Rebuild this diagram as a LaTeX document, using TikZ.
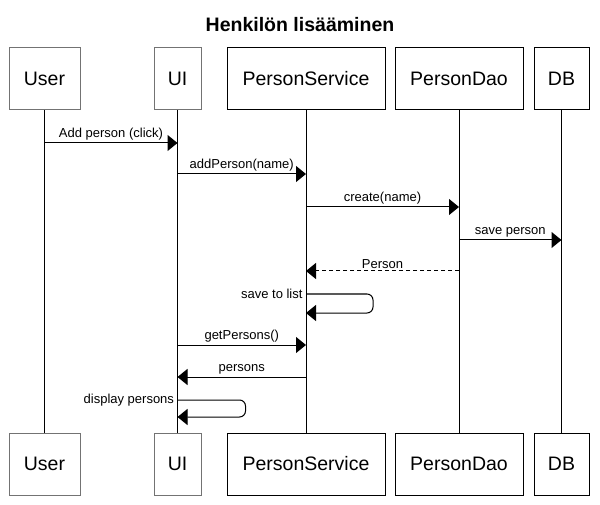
\documentclass[tikz,border=0pt]{standalone}
\usepackage{fontspec}
\setmainfont{Liberation Sans}
\usetikzlibrary{arrows.meta,positioning}

\begin{document}
\begin{tikzpicture}[x=1pt,y=-1pt,line width=1pt,
  part/.style={draw,fill=white,minimum height=62pt,inner sep=2pt,
    font=\fontsize{19.5}{23}\selectfont},
  life/.style={draw},
  msg/.style={-{Triangle[length=10pt,width=16pt]}},
  reply/.style={msg,dash pattern=on 4pt off 3pt},
  lbl/.style={font=\fontsize{13}{15}\selectfont,inner sep=2pt},
  ttl/.style={font=\fontsize{19.5}{23}\selectfont\bfseries}]

\useasboundingbox (0,0) rectangle (600,505);
\node[ttl] (title) at (300,25) {Henkilön lisääminen};

% ============ participants (top and bottom) ============
\foreach \n/\x/\w/\c/\t in {user/44.5/71/black!55/User,ui/177.5/47/black!55/UI,
  serv/306/158/black/PersonService,dao/459/128/black/PersonDao,db/561.5/55/black/DB}{
  \node[part,draw=\c,minimum width=\w pt] (\n) at (\x,79) {\t};
  \node[part,draw=\c,minimum width=\w pt] (\n b) at (\x,464) {\t};
  \draw[life] (\n.south) -- (\n b.north);
}

% ============ calls ============
\foreach \a/\b/\y/\m/\t in {user/ui/143/m1/Add person (click),ui/serv/174/m2/addPerson(name),
  serv/dao/207/m3/create(name),dao/db/240/m4/save person,ui/serv/345/m6/getPersons()}{
  \coordinate (\m a) at (\a |- 0,\y);
  \coordinate (\m b) at (\b |- 0,\y);
  \draw[msg] (\m a) -- node[lbl,above] {\t} (\m b);
}

% ============ returns ============
\coordinate (m5a) at (dao |- 0,271);
\coordinate (m5b) at (serv |- 0,271);
\draw[reply] (m5a) -- node[lbl,above] {Person} (m5b);
\coordinate (m7a) at (serv |- 0,377);
\coordinate (m7b) at (ui |- 0,377);
\draw[msg] (m7a) -- node[lbl,above] {persons} (m7b);

% ============ self calls ============
\coordinate (s1a) at (serv |- 0,294);
\coordinate (s1b) at (serv |- 0,313);
\draw[msg,rounded corners=6pt] (s1a) -- ++(67,0) |- (s1b);
\node[lbl,anchor=east,inner sep=3pt] (s1l) at (s1a) {save to list};
\coordinate (s2a) at (ui |- 0,400);
\coordinate (s2b) at (ui |- 0,417);
\draw[msg,rounded corners=6pt] (s2a) -- ++(68,0) |- (s2b);
\node[lbl,anchor=east,inner sep=3pt] (s2l) at (s2a) {display persons};

\end{tikzpicture}
\end{document}
